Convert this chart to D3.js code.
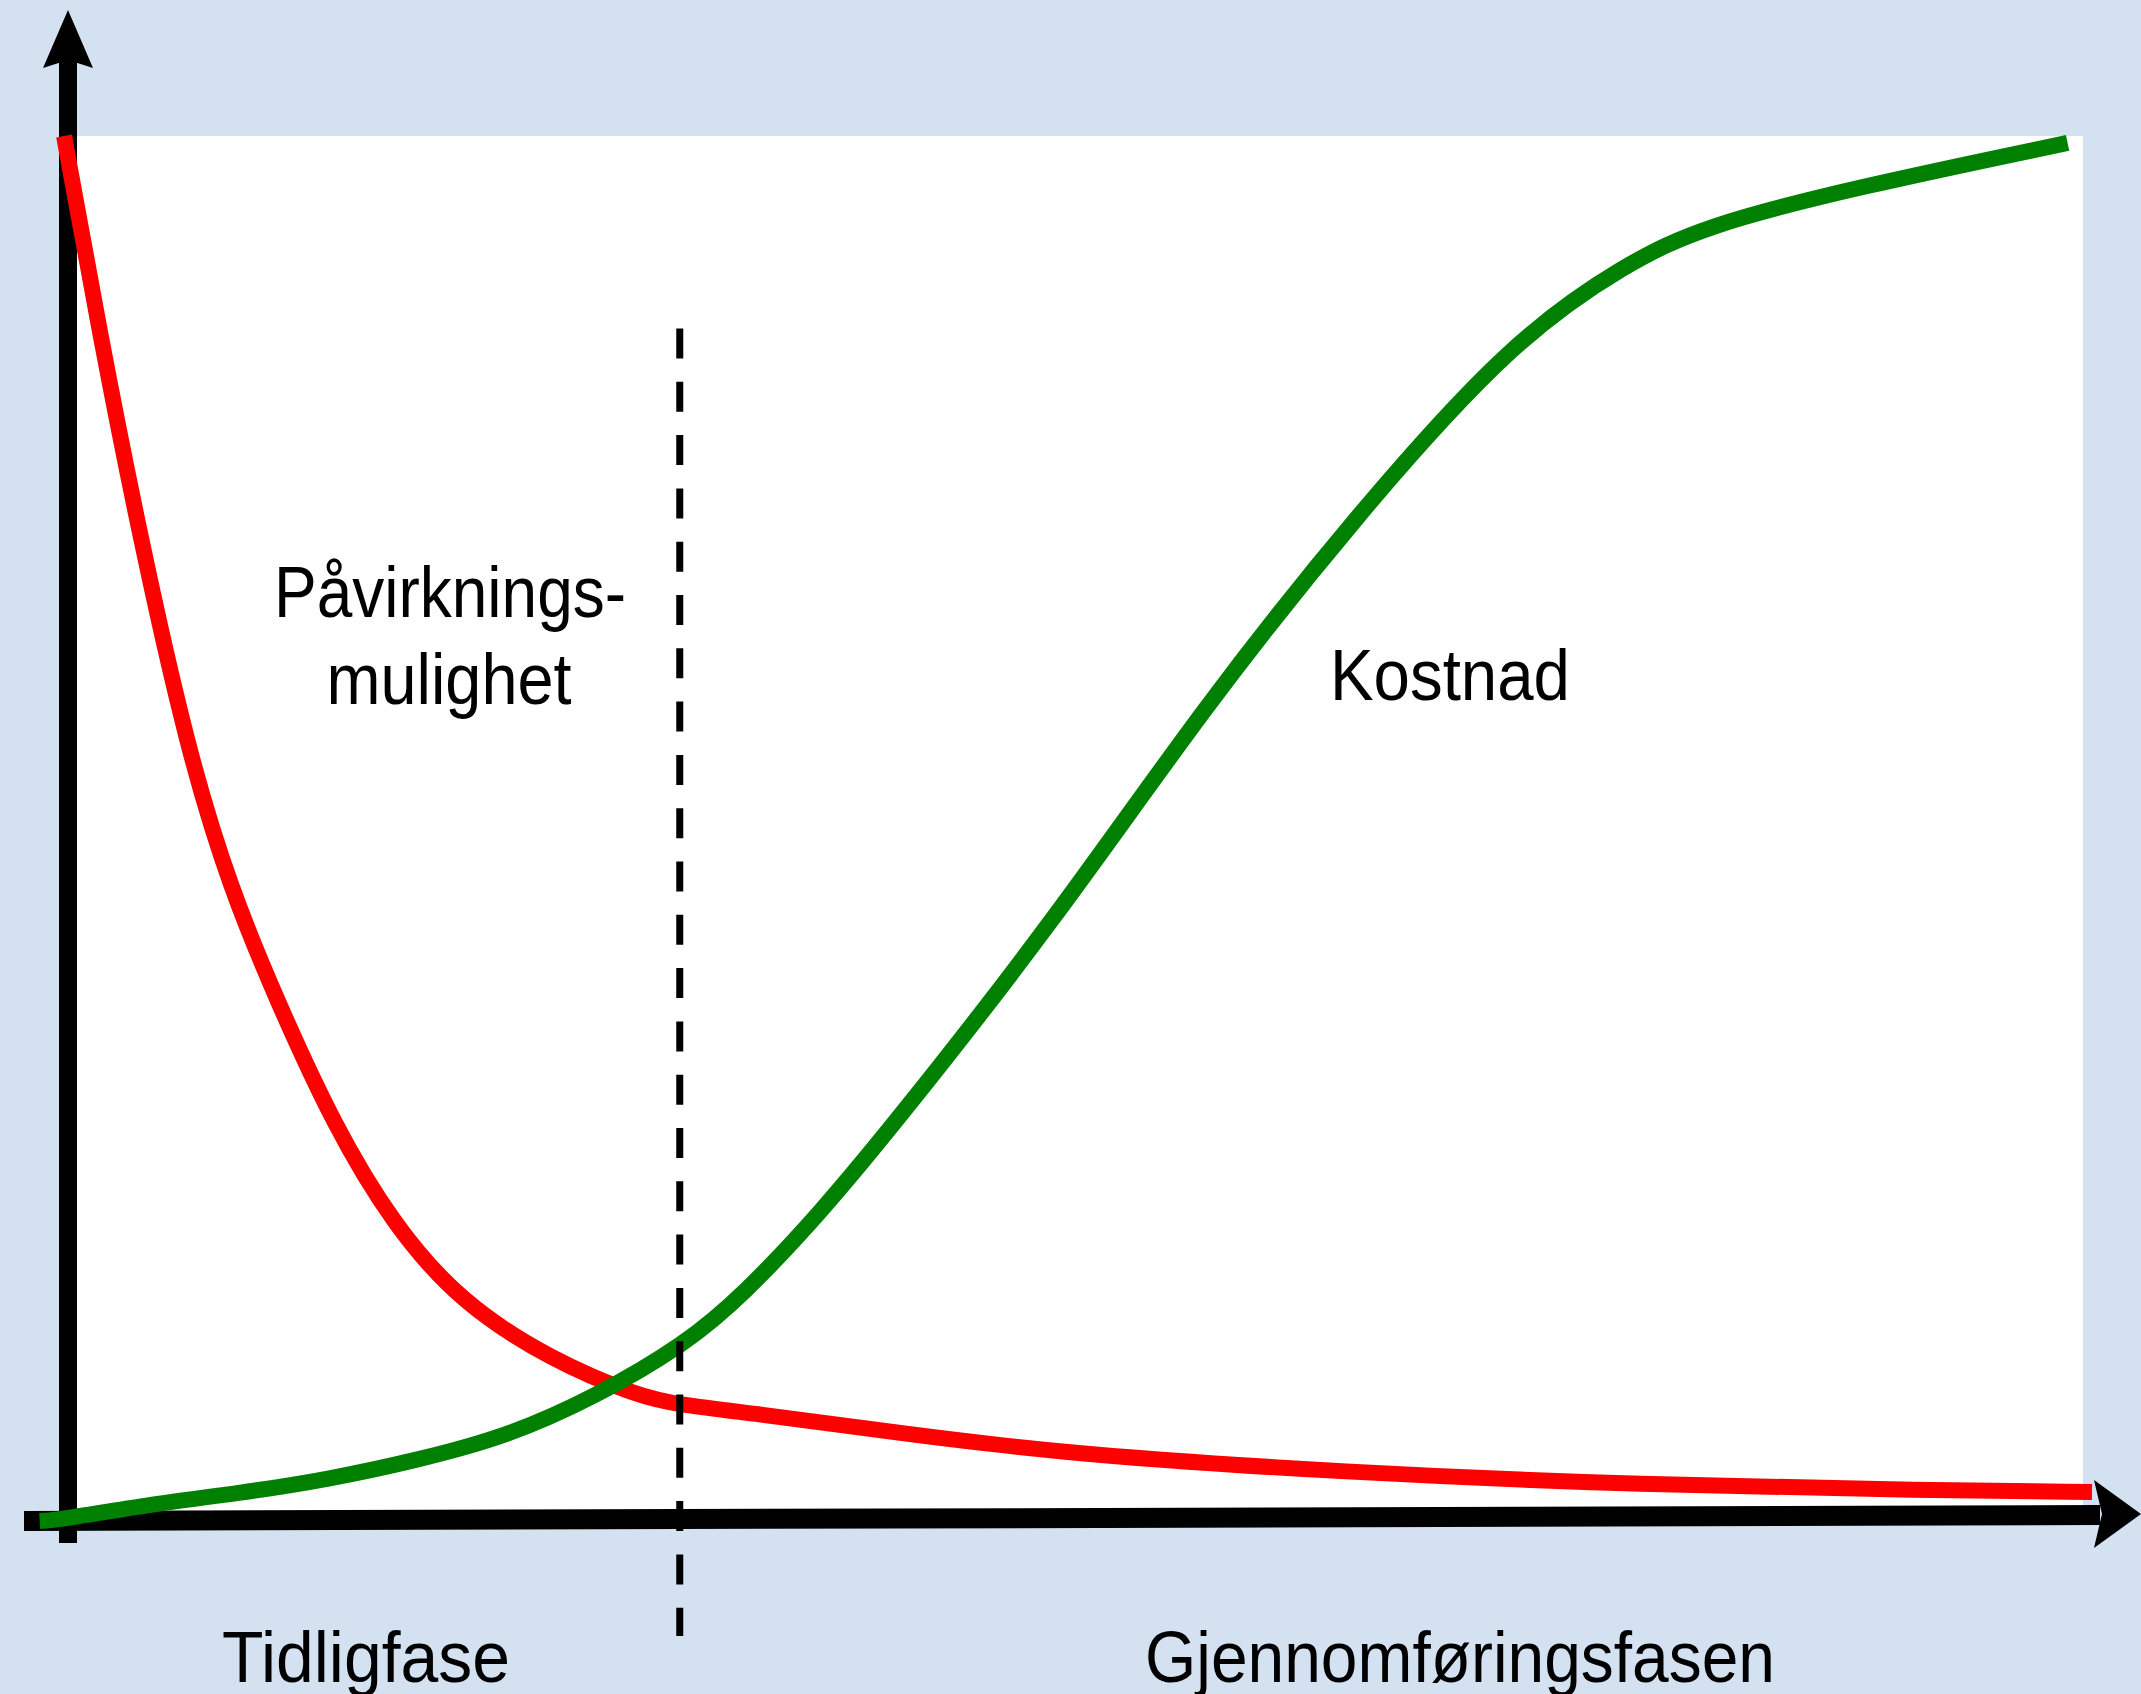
<!DOCTYPE html>
<html>
<head>
<meta charset="utf-8">
<script src="https://cdn.jsdelivr.net/npm/d3@7"></script>
<style>
  body { margin: 0; background: #d4e1f0; }
  text { font-family: "Liberation Sans", Arial, sans-serif; fill: #000; }
</style>
</head>
<body>
<div class="chart"></div>
<script>
var svgWidth = 2141;
var svgHeight = 1694;

// phase of project (0-100) on x, relative level (0-100) on y
var paavirkX = [0.2, 2.0, 3.9, 6.3, 8.4, 10.7, 13.5, 16.4, 19.7, 24.2, 28.5, 30.4, 34.5, 39.1, 48.8, 63.3, 77.8, 92.3, 100];
var paavirkY = [100, 85.4, 71.3, 55.5, 45.6, 37.5, 28.5, 21.4, 15.8, 11.6, 9.0, 8.4, 7.7, 6.8, 4.9, 3.5, 2.6, 2.2, 2.1];

var kostX = [-1.0, 0, 4.4, 8.8, 13.2, 17.6, 22.0, 26.4, 30.8, 33.6, 37.4, 41.3, 48.9, 56.4, 63.9, 71.5, 77.1, 80.9, 88.4, 98.8];
var kostY = [0, 0.1, 1.2, 2.0, 3.0, 4.4, 6.1, 9.0, 12.8, 16.3, 22.2, 29.1, 43.3, 59.0, 72.8, 85.3, 90.8, 93.5, 96.3, 99.5];

// where early phase ends
var phaseSplit = 30.5;
var phaseLabels = ["Tidligfase", "Gjennomføringsfasen"];
var curveLabels = ["Påvirknings-", "mulighet", "Kostnad"];

var x = d3.scaleLinear().domain([0, 100]).range([60, 2092]);
var y = d3.scaleLinear().domain([0, 100]).range([1521, 136]);

var svg = d3.select(".chart")
  .append("svg")
  .attr("width", svgWidth)
  .attr("height", svgHeight);

svg.append("rect")
  .attr("width", svgWidth)
  .attr("height", svgHeight)
  .attr("fill", "#d4e1f0");

// white plot area
svg.append("rect")
  .attr("x", x(0) + 8)
  .attr("y", y(100))
  .attr("width", 2083 - x(0) - 8)
  .attr("height", y(0) - y(100) - 6)
  .attr("fill", "#ffffff");

// axes with arrows
svg.append("line")
  .attr("x1", 68).attr("y1", 1543)
  .attr("x2", 68).attr("y2", 60)
  .attr("stroke", "#000").attr("stroke-width", 18);
svg.append("path")
  .attr("d", "M68,10 L93,68 L68,60 L43,68 Z")
  .attr("fill", "#000");

svg.append("line")
  .attr("x1", 24).attr("y1", y(0))
  .attr("x2", 2100).attr("y2", y(0) - 6)
  .attr("stroke", "#000").attr("stroke-width", 20);
svg.append("path")
  .attr("d", "M2141,1514 L2094,1480 L2102,1514 L2094,1548 Z")
  .attr("fill", "#000");

var line = d3.line()
  .x(d => x(d[0]))
  .y(d => y(d[1]))
  .curve(d3.curveBasis);

svg.append("path")
  .datum(d3.zip(paavirkX, paavirkY))
  .attr("d", line)
  .attr("fill", "none")
  .attr("stroke", "#ff0000")
  .attr("stroke-width", 16);

svg.append("path")
  .datum(d3.zip(kostX, kostY))
  .attr("d", line)
  .attr("fill", "none")
  .attr("stroke", "#008000")
  .attr("stroke-width", 16);

// dashed split line
svg.append("line")
  .attr("x1", x(phaseSplit)).attr("y1", y(86.1))
  .attr("x2", x(phaseSplit)).attr("y2", y(-8.3))
  .attr("stroke", "#000")
  .attr("stroke-width", 7)
  .attr("stroke-dasharray", "30,23.3");

function label(txt, cx, baseline, len) {
  svg.append("text")
    .attr("x", cx)
    .attr("y", baseline)
    .attr("text-anchor", "middle")
    .attr("font-size", 72)
    .attr("textLength", len)
    .attr("lengthAdjust", "spacingAndGlyphs")
    .text(txt);
}

label(curveLabels[0], 450, 617, 352);
label(curveLabels[1], 449, 704, 245);
label(curveLabels[2], 1450, 700, 240);
label(phaseLabels[0], 366, 1682, 288);
label(phaseLabels[1], 1460, 1682, 630);
</script>
</body>
</html>
